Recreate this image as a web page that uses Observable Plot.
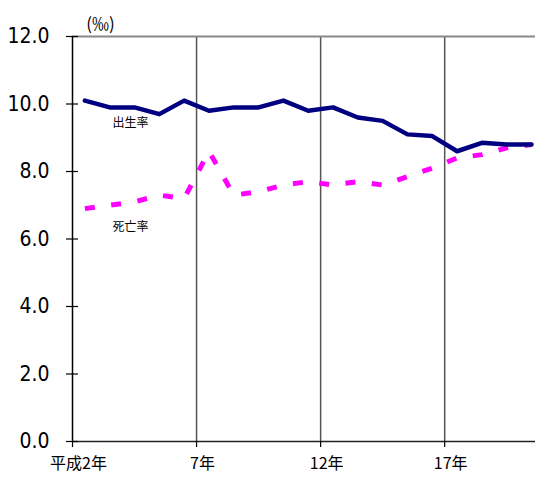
<!DOCTYPE html>
<html><head><meta charset="utf-8">
<script src="https://cdn.jsdelivr.net/npm/d3@7"></script>
<script src="https://cdn.jsdelivr.net/npm/@observablehq/plot@0.6"></script>
<style>body{margin:0;background:#fff}</style>
</head><body><div id="chart"></div>
<script>
const years = [2,3,4,5,6,7,8,9,10,11,12,13,14,15,16,17,18,19,20];
const birthRate = [10.1,9.9,9.9,9.7,10.1,9.8,9.9,9.9,10.1,9.8,9.9,9.6,9.5,9.1,9.05,8.6,8.85,8.8,8.8];
const deathRate = [6.9,7.0,7.1,7.3,7.2,8.6,7.3,7.4,7.6,7.7,7.6,7.7,7.6,7.85,8.1,8.4,8.5,8.7,8.8];
const xTickYears = [2,7,12,17];
const xTickLabels = ["平成2年","7年","12年","17年"];
const yTicks = [0,2,4,6,8,10,12];
const unitLabel = "(‰)";
const seriesNames = ["出生率","死亡率"];

const birth = years.map((y,i)=>({year:y, v:birthRate[i]}));
const death = years.map((y,i)=>({year:y, v:deathRate[i]}));
const bounds = xTickYears.map(y => y - 0.5);
const jp = "'Noto Sans CJK JP', sans-serif";
const narrow = "'Liberation Sans Narrow', 'DejaVu Sans Condensed', 'Liberation Sans', sans-serif";

const chart = Plot.plot({
  width: 537, height: 477,
  marginLeft: 72, marginRight: 2, marginTop: 36, marginBottom: 36,
  style: {fontFamily: "'Liberation Sans', Arial, sans-serif", background: "#fff"},
  x: {domain: [1.5, 20.16]},
  y: {domain: [0, 12]},
  marks: [
    Plot.ruleX(bounds.slice(1), {stroke: "#555", strokeWidth: 1.5}),
    Plot.ruleY([12], {stroke: "#888", strokeWidth: 2}),
    Plot.ruleX([bounds[0]], {stroke: "#000", strokeWidth: 1.5}),
    Plot.ruleY([0], {stroke: "#222", strokeWidth: 1.5}),
    Plot.axisY({ticks: yTicks, tickSize: 12, dx: 6, tickPadding: 17, tickFormat: d => d.toFixed(1), fontSize: 21, fontFamily: narrow, label: null, stroke: "#000", strokeWidth: 1.2, color: "#000"}),
    Plot.axisX({ticks: bounds, tickSize: 6, tickFormat: () => "", label: null, stroke: "#000", strokeWidth: 1.2}),
    Plot.axisX({ticks: bounds, tickSize: 0, tickPadding: 16, tickFormat: (d) => xTickLabels[bounds.indexOf(d)], fontSize: 16, fontFamily: jp, label: null, dx: 6, color: "#000"}),
    Plot.line(death, {x: "year", y: "v", stroke: "#FF00FF", strokeWidth: 5, strokeDasharray: "10,16.5", strokeLinecap: "butt"}),
    Plot.line(birth, {x: "year", y: "v", stroke: "#000080", strokeWidth: 4.5, strokeLinejoin: "round", strokeLinecap: "round"}),
    Plot.text([seriesNames[0]], {x: 3.84, y: 9.42, text: d => d, fontSize: 12, fontFamily: jp, fill: "#000"}),
    Plot.text([seriesNames[1]], {x: 3.84, y: 6.34, text: d => d, fontSize: 12, fontFamily: jp, fill: "#000"}),
    Plot.text([unitLabel], {frameAnchor: "top-left", textAnchor: "middle", dx: 28, dy: -19, text: d => d, fontSize: 17, fontFamily: jp, fill: "#000"})
  ]
});
document.getElementById("chart").append(chart);
</script>
</body></html>
